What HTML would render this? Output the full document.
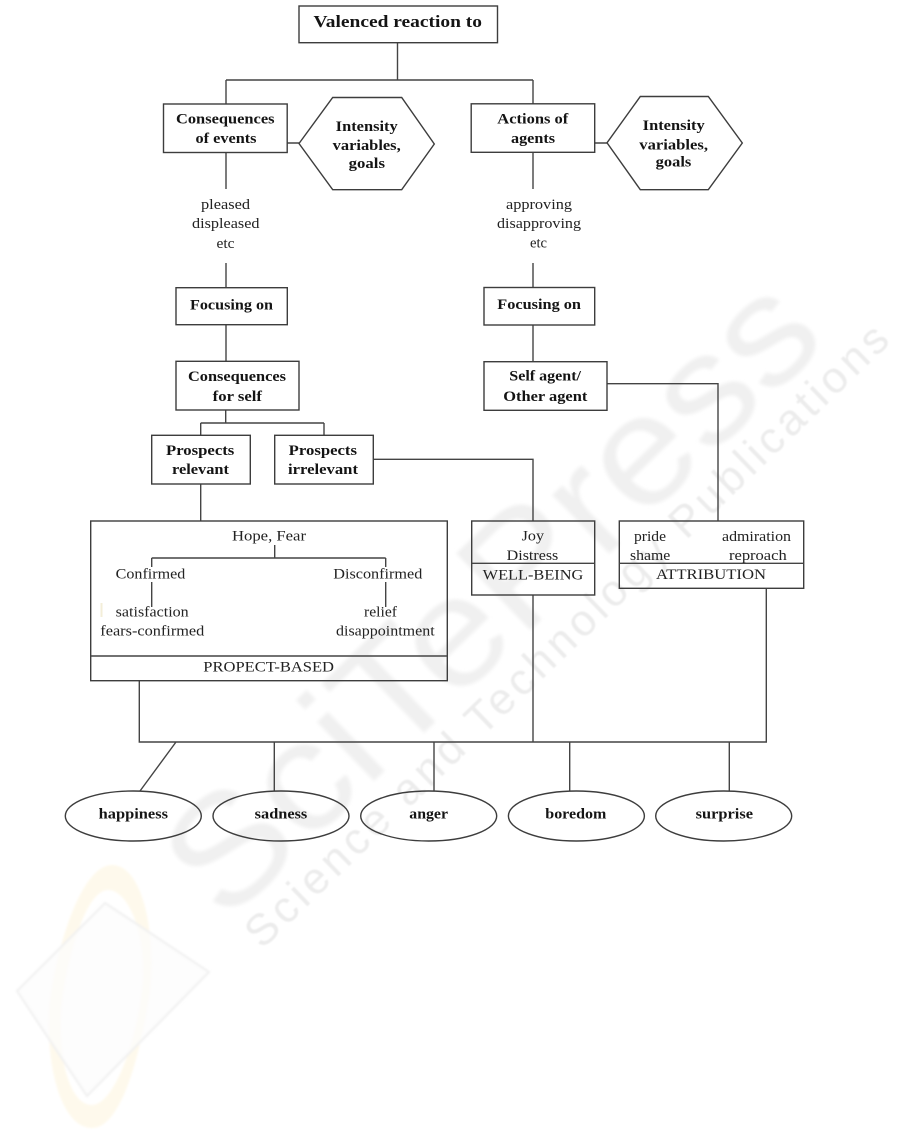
<!DOCTYPE html>
<html>
<head>
<meta charset="utf-8">
<style>
html,body{margin:0;padding:0;background:#fff;width:901px;height:1144px;overflow:hidden}
svg{display:block}
text{font-family:"Liberation Serif",serif;fill:#141414}
.b{font-weight:bold;font-size:15px}
.r{font-size:15px;fill:#222}
.s{fill:none;stroke:#3d3d3d;stroke-width:1.4}
.l{fill:none;stroke:#444;stroke-width:1.4}
.w{font-family:"Liberation Sans",sans-serif}
</style>
</head>
<body>
<svg width="901" height="1144" viewBox="0 0 901 1144" xmlns="http://www.w3.org/2000/svg">
<defs><filter id="bl" x="-5%" y="-20%" width="110%" height="140%"><feGaussianBlur stdDeviation="1.8"/></filter>
<filter id="bl2" x="-5%" y="-20%" width="110%" height="140%"><feGaussianBlur stdDeviation="0.7"/></filter>
<filter id="bl3"><feGaussianBlur stdDeviation="1"/></filter></defs>

<!-- watermark -->
<g filter="url(#bl)">
<text class="w" transform="translate(225,925) rotate(-44)" x="0" y="0" font-size="155" textLength="840" lengthAdjust="spacingAndGlyphs" style="fill:#f0f0f0">SciTePress</text>
</g>
<g filter="url(#bl2)">
<text class="w" transform="translate(262,950) rotate(-44)" x="0" y="0" font-size="44" textLength="875" lengthAdjust="spacing" style="fill:#ececec">Science and Technology Publications</text>
</g>
<g filter="url(#bl3)">
<path d="M112 865C85 865 60 930 50 1000C44 1060 60 1128 92 1128C120 1128 140 1060 150 990C156 930 142 865 112 865ZM108 890C88 890 70 945 62 1000C56 1050 68 1105 92 1105C112 1105 135 1050 142 990C148 940 130 890 108 890Z" fill="#fef9ec" fill-rule="evenodd"/>
<polygon points="105,903 209,972 87,1096 17,991" fill="#fcfcfc" fill-opacity=".75" stroke="#f0f0f0" stroke-width="2"/>
</g>

<!-- connectors -->
<path class="l" d="M397.5 43V80M226 80H533M226 80V104M533 80V104"/>
<path class="l" d="M287 143H299M226 152V189M226 263V288M226 325V361M225.7 410V423M200.7 423H324M200.7 423V435M324 423V435M200.7 484V521M373 459.3H533V521"/>
<path class="l" d="M595 143H607M533 152V189M533 263V288M533 325V362M607 383.7H718V521"/>
<path class="l" d="M139.3 681V742H766.3V588M533 595V742M176 742L140 791M274.3 742V791M434 742V791M569.7 742V791M729.3 742V791"/>

<!-- boxes -->
<rect class="s" x="299" y="6" width="198.5" height="36.7"/>
<rect class="s" x="163.5" y="104" width="123.7" height="48.5"/>
<polygon class="s" points="299,143.5 332.7,97.5 401.7,97.5 434.3,144 401.7,189.7 332.7,189.7"/>
<rect class="s" x="471.2" y="103.8" width="123.5" height="48.5"/>
<polygon class="s" points="607,142.8 640.3,96.5 708.3,96.5 742.3,143 708.3,189.7 640.3,189.7"/>
<rect class="s" x="176" y="287.7" width="111.3" height="37"/>
<rect class="s" x="484" y="287.5" width="110.7" height="37.5"/>
<rect class="s" x="176" y="361.3" width="123" height="48.7"/>
<rect class="s" x="484" y="361.7" width="123" height="48.6"/>
<rect class="s" x="151.7" y="435.3" width="98.6" height="48.7"/>
<rect class="s" x="274.7" y="435.3" width="98.6" height="48.7"/>
<rect class="s" x="90.7" y="521" width="356.6" height="159.7"/>
<path class="l" d="M90.7 656H447.3"/>
<rect class="s" x="471.7" y="521" width="123" height="74"/>
<path class="l" d="M471.7 563.3H594.7"/>
<rect class="s" x="619.3" y="521" width="184.4" height="67.3"/>
<path class="l" d="M619.3 563.3H803.7"/>
<path class="l" d="M274.7 545V558M151.7 558H385.7M151.7 558V567M385.7 558V567M151.7 582V607M385.7 582V607"/>
<rect x="100.5" y="603" width="2" height="14" fill="#f3eed8"/>

<!-- ellipses -->
<ellipse class="s" cx="133.3" cy="816" rx="68" ry="25"/>
<ellipse class="s" cx="281" cy="816" rx="68" ry="25"/>
<ellipse class="s" cx="428.7" cy="816" rx="68" ry="25"/>
<ellipse class="s" cx="576.4" cy="816" rx="68" ry="25"/>
<ellipse class="s" cx="723.7" cy="816" rx="68" ry="25"/>

<!-- bold labels -->
<text class="b" style="font-size:16.5px" x="313.5" y="27" textLength="168.5" lengthAdjust="spacingAndGlyphs">Valenced reaction to</text>
<text class="b" x="176" y="123.5" textLength="98.5" lengthAdjust="spacingAndGlyphs">Consequences</text>
<text class="b" x="195.5" y="143" textLength="61" lengthAdjust="spacingAndGlyphs">of events</text>
<text class="b" x="335.7" y="131" textLength="62" lengthAdjust="spacingAndGlyphs">Intensity</text>
<text class="b" x="332.7" y="150" textLength="68" lengthAdjust="spacingAndGlyphs">variables,</text>
<text class="b" x="348.7" y="168" textLength="36.3" lengthAdjust="spacingAndGlyphs">goals</text>
<text class="b" x="497.3" y="123.3" textLength="71" lengthAdjust="spacingAndGlyphs">Actions of</text>
<text class="b" x="511" y="143" textLength="44" lengthAdjust="spacingAndGlyphs">agents</text>
<text class="b" x="642.7" y="130" textLength="62" lengthAdjust="spacingAndGlyphs">Intensity</text>
<text class="b" x="639.3" y="149.3" textLength="68.7" lengthAdjust="spacingAndGlyphs">variables,</text>
<text class="b" x="655.7" y="166.7" textLength="35.6" lengthAdjust="spacingAndGlyphs">goals</text>
<text class="b" x="190" y="309.3" textLength="83" lengthAdjust="spacingAndGlyphs">Focusing on</text>
<text class="b" x="497.3" y="309" textLength="83.7" lengthAdjust="spacingAndGlyphs">Focusing on</text>
<text class="b" x="188" y="381" textLength="98" lengthAdjust="spacingAndGlyphs">Consequences</text>
<text class="b" x="212.7" y="401" textLength="49.3" lengthAdjust="spacingAndGlyphs">for self</text>
<text class="b" x="509.3" y="380.7" textLength="71.7" lengthAdjust="spacingAndGlyphs">Self agent/</text>
<text class="b" x="503.3" y="401" textLength="84" lengthAdjust="spacingAndGlyphs">Other agent</text>
<text class="b" x="166" y="455" textLength="68.3" lengthAdjust="spacingAndGlyphs">Prospects</text>
<text class="b" x="172" y="474" textLength="57" lengthAdjust="spacingAndGlyphs">relevant</text>
<text class="b" x="288.7" y="455" textLength="68.3" lengthAdjust="spacingAndGlyphs">Prospects</text>
<text class="b" x="288" y="474" textLength="70" lengthAdjust="spacingAndGlyphs">irrelevant</text>
<text class="b" x="98.7" y="818.3" textLength="69.3" lengthAdjust="spacingAndGlyphs">happiness</text>
<text class="b" x="254.7" y="818.3" textLength="52.6" lengthAdjust="spacingAndGlyphs">sadness</text>
<text class="b" x="409.3" y="818.3" textLength="38.7" lengthAdjust="spacingAndGlyphs">anger</text>
<text class="b" x="545.3" y="818.3" textLength="61" lengthAdjust="spacingAndGlyphs">boredom</text>
<text class="b" x="695.7" y="818.3" textLength="57.3" lengthAdjust="spacingAndGlyphs">surprise</text>

<!-- regular labels -->
<text class="r" x="201" y="209" textLength="49" lengthAdjust="spacingAndGlyphs">pleased</text>
<text class="r" x="192" y="228" textLength="67.5" lengthAdjust="spacingAndGlyphs">displeased</text>
<text class="r" x="216.5" y="248" textLength="18" lengthAdjust="spacingAndGlyphs">etc</text>
<text class="r" x="506" y="209" textLength="66" lengthAdjust="spacingAndGlyphs">approving</text>
<text class="r" x="497" y="228" textLength="84" lengthAdjust="spacingAndGlyphs">disapproving</text>
<text class="r" x="530" y="247.7" textLength="17" lengthAdjust="spacingAndGlyphs">etc</text>
<text class="r" x="232" y="540.7" textLength="74" lengthAdjust="spacingAndGlyphs">Hope, Fear</text>
<text class="r" x="115.7" y="578.3" textLength="69.6" lengthAdjust="spacingAndGlyphs">Confirmed</text>
<text class="r" x="333.3" y="578.3" textLength="89" lengthAdjust="spacingAndGlyphs">Disconfirmed</text>
<text class="r" x="115.7" y="616.7" textLength="73" lengthAdjust="spacingAndGlyphs">satisfaction</text>
<text class="r" x="100.3" y="635.7" textLength="104" lengthAdjust="spacingAndGlyphs">fears-confirmed</text>
<text class="r" x="364" y="616.7" textLength="33" lengthAdjust="spacingAndGlyphs">relief</text>
<text class="r" x="336" y="635.7" textLength="98.7" lengthAdjust="spacingAndGlyphs">disappointment</text>
<text class="r" x="203.3" y="671.7" textLength="130.7" lengthAdjust="spacingAndGlyphs">PROPECT-BASED</text>
<text class="r" x="521.7" y="540.7" textLength="22.3" lengthAdjust="spacingAndGlyphs">Joy</text>
<text class="r" x="506.7" y="560" textLength="51.6" lengthAdjust="spacingAndGlyphs">Distress</text>
<text class="r" x="482.7" y="579.3" textLength="100.6" lengthAdjust="spacingAndGlyphs">WELL-BEING</text>
<text class="r" x="634" y="541" textLength="32" lengthAdjust="spacingAndGlyphs">pride</text>
<text class="r" x="722" y="541" textLength="69" lengthAdjust="spacingAndGlyphs">admiration</text>
<text class="r" x="630" y="560" textLength="40.3" lengthAdjust="spacingAndGlyphs">shame</text>
<text class="r" x="729" y="560" textLength="57.7" lengthAdjust="spacingAndGlyphs">reproach</text>
<text class="r" x="656" y="579" textLength="110" lengthAdjust="spacingAndGlyphs">ATTRIBUTION</text>
</svg>
</body>
</html>
